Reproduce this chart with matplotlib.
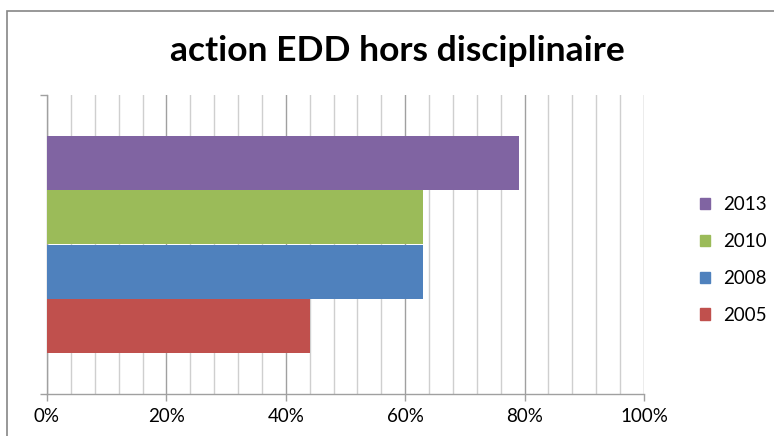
import matplotlib.pyplot as plt
from matplotlib.patches import Rectangle, Patch
from matplotlib.ticker import MultipleLocator, PercentFormatter

# data
years = ['2005', '2008', '2010', '2013']
values = [0.44, 0.63, 0.63, 0.79]
colors = ['#c0504d', '#4f81bd', '#9bbb59', '#8064a2']
title = 'action EDD hors disciplinaire'

plt.rcParams['font.family'] = ['Lato', 'DejaVu Sans']

fig = plt.figure(figsize=(7.74, 4.36), dpi=100)
ax = fig.add_axes([47 / 774, 1 - 394 / 436, 597 / 774, 299 / 436])

# one category, four bars stacked next to each other (Excel clustered bar)
bar_h = 0.1815
for i, (year, val, col) in enumerate(zip(years, values, colors)):
    ax.barh((i - 1.5) * bar_h, val, height=bar_h, color=col, zorder=3)

ax.set_xlim(0, 1)
ax.set_ylim(-0.5, 0.5)

ax.xaxis.set_major_locator(MultipleLocator(0.2))
ax.xaxis.set_minor_locator(MultipleLocator(0.04))
ax.xaxis.set_major_formatter(PercentFormatter(1.0, decimals=0))
ax.grid(axis='x', which='major', color='#a0a0a0', linewidth=1.0, zorder=0)
ax.grid(axis='x', which='minor', color='#cfcfcf', linewidth=1.0, zorder=0)
ax.tick_params(axis='x', which='major', direction='out', length=5, width=1,
               color='#a0a0a0', labelsize=13.5, pad=5)
ax.tick_params(axis='x', which='minor', length=0)

ax.set_yticks([-0.5, 0.5])
ax.set_yticklabels([])
ax.tick_params(axis='y', direction='out', length=5, width=1, color='#a0a0a0')

for side in ['top', 'right']:
    ax.spines[side].set_visible(False)
for side in ['left', 'bottom']:
    ax.spines[side].set_color('#a0a0a0')
    ax.spines[side].set_linewidth(1.0)

fig.text(397 / 774, 1 - 51 / 436, title, ha='center', va='center',
         fontsize=25.5, fontweight='bold')

handles = [Patch(color=colors[i], label=years[i]) for i in range(3, -1, -1)]
fig.legend(handles=handles, loc='center left',
           bbox_to_anchor=(683 / 774, 1 - 260 / 436), frameon=False,
           fontsize=13.5, handlelength=0.55, handleheight=0.55,
           handletextpad=0.7, labelspacing=1.05)

# outer chart border
fig.patches.append(Rectangle((7 / 774, -0.1), 1.2, 1 - 11 / 436 + 0.1,
                             transform=fig.transFigure, fill=False,
                             edgecolor='#868686', linewidth=1.2))

fig.savefig('out.png', dpi=100)
